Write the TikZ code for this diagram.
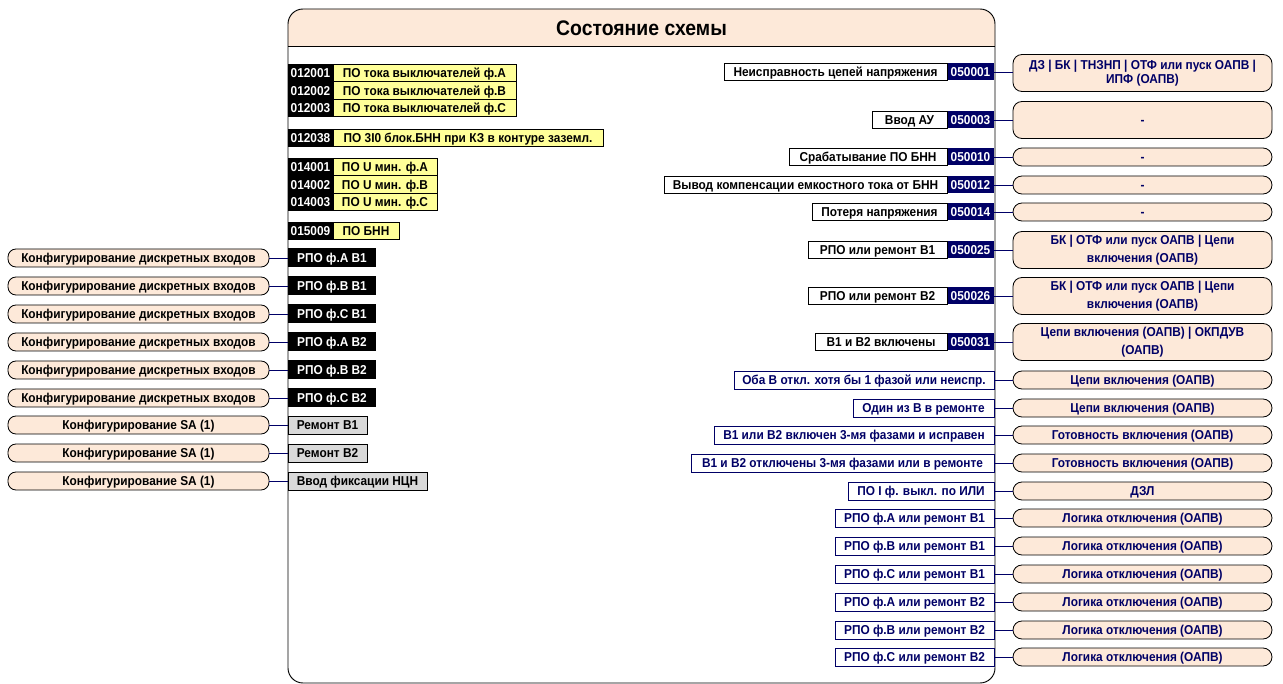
\documentclass[tikz,border=0pt]{standalone}
\usepackage{fontspec}
\setmainfont[FakeStretch=0.92]{Liberation Sans}
\usetikzlibrary{positioning}

\definecolor{peach}{HTML}{FDE9D9}
\definecolor{navy}{HTML}{000066}
\definecolor{lyellow}{HTML}{FFFF99}
\definecolor{lgray}{HTML}{D9D9D9}
\newlength\pxl
\setlength\pxl{0.03cm}

\begin{document}
\begin{tikzpicture}[x=0.03cm, y=-0.03cm,
  every node/.style={font=\fontsize{11}{12.5}\selectfont\bfseries, inner sep=0pt, outer sep=0pt, line width=0.7pt, text height=7.9pt, text depth=0pt},
  idbox/.style={fill=black, text=white, minimum width=45\pxl, minimum height=17.5\pxl, anchor=west},
  pobox/.style={draw=black, fill=lyellow, minimum height=17.5\pxl, anchor=west},
  rpobox/.style={fill=black, text=white, minimum width=88\pxl, minimum height=19\pxl, anchor=west},
  rembox/.style={draw=black, fill=lgray, minimum height=18\pxl, anchor=west},
  inbox/.style={draw=black, fill=peach, rounded corners=8\pxl, minimum width=261\pxl, minimum height=18\pxl},
  outbox/.style={draw=black, fill=peach, text=navy, rounded corners=9\pxl, minimum width=259\pxl, minimum height=18\pxl, align=center},
  tallbox/.style={outbox, minimum height=37\pxl, text height=, text depth=},
  lblbox/.style={draw=black, fill=white, minimum height=17\pxl, anchor=east},
  numbox/.style={fill=navy, text=white, minimum width=47\pxl, minimum height=17\pxl, anchor=east},
  sigbox/.style={draw=navy, fill=white, text=navy, minimum height=18\pxl, anchor=east},
  wire/.style={draw=navy, line width=0.8pt}]
\useasboundingbox (0,0) rectangle (1283,684);

% frame
\fill[peach] (288,46) [rounded corners=16\pxl] -- (288,9) -- (995,9) [sharp corners] -- (995,46) -- cycle;
\draw[line width=0.8pt, rounded corners=15\pxl] (288,683) rectangle (995,9);
\draw[line width=0.8pt] (288,46) -- (995,46);
\node[text height=12.9pt] (title) at (641.5,27.5) {\fontsize{18}{20}\selectfont Состояние схемы};

% left: settings
\node[idbox] (k1) at (288,73) {012001};
\node[idbox] (k2) at (288,90.5) {012002};
\node[idbox] (k3) at (288,108) {012003};
\node[idbox] (k4) at (288,138) {012038};
\node[idbox] (k5) at (288,167) {014001};
\node[idbox] (k6) at (288,184.5) {014002};
\node[idbox] (k7) at (288,202) {014003};
\node[idbox] (k8) at (288,231) {015009};
\node[pobox, minimum width=183\pxl] (p1) at (k1.east) {ПО тока выключателей ф.А};
\node[pobox, minimum width=183\pxl] (p2) at (k2.east) {ПО тока выключателей ф.В};
\node[pobox, minimum width=183\pxl] (p3) at (k3.east) {ПО тока выключателей ф.С};
\node[pobox, minimum width=270\pxl] (p4) at (k4.east) {ПО 3I0 блок.БНН при КЗ в контуре заземл.};
\node[pobox, minimum width=104\pxl] (p5) at (k5.east) {ПО U мин. ф.А};
\node[pobox, minimum width=104\pxl] (p6) at (k6.east) {ПО U мин. ф.В};
\node[pobox, minimum width=104\pxl] (p7) at (k7.east) {ПО U мин. ф.С};
\node[pobox, minimum width=66\pxl] (p8) at (k8.east) {ПО БНН};

% left: inputs
\node[rpobox] (r1) at (288,258) {РПО ф.А В1};
\node[rpobox] (r2) at (288,286) {РПО ф.В В1};
\node[rpobox] (r3) at (288,314) {РПО ф.С В1};
\node[rpobox] (r4) at (288,342) {РПО ф.А В2};
\node[rpobox] (r5) at (288,370) {РПО ф.В В2};
\node[rpobox] (r6) at (288,398) {РПО ф.С В2};
\node[rembox, minimum width=79\pxl] (r7) at (288,425) {Ремонт В1};
\node[rembox, minimum width=79\pxl] (r8) at (288,453) {Ремонт В2};
\node[rembox, minimum width=139\pxl] (r9) at (288,481) {Ввод фиксации НЦН};

\node[inbox] (i1) at (138.5,258) {Конфигурирование дискретных входов};
\node[inbox] (i2) at (138.5,286) {Конфигурирование дискретных входов};
\node[inbox] (i3) at (138.5,314) {Конфигурирование дискретных входов};
\node[inbox] (i4) at (138.5,342) {Конфигурирование дискретных входов};
\node[inbox] (i5) at (138.5,370) {Конфигурирование дискретных входов};
\node[inbox] (i6) at (138.5,398) {Конфигурирование дискретных входов};
\node[inbox] (i7) at (138.5,425) {Конфигурирование SA (1)};
\node[inbox] (i8) at (138.5,453) {Конфигурирование SA (1)};
\node[inbox] (i9) at (138.5,481) {Конфигурирование SA (1)};

% right: outputs with codes
\node[numbox] (n1) at (994,72) {050001};
\node[numbox] (n2) at (994,120) {050003};
\node[numbox] (n3) at (994,157) {050010};
\node[numbox] (n4) at (994,185) {050012};
\node[numbox] (n5) at (994,212) {050014};
\node[numbox] (n6) at (994,250) {050025};
\node[numbox] (n7) at (994,296) {050026};
\node[numbox] (n8) at (994,342) {050031};
\node[lblbox, minimum width=223\pxl] (l1) at (n1.west) {Неисправность цепей напряжения};
\node[lblbox, minimum width=75\pxl] (l2) at (n2.west) {Ввод АУ};
\node[lblbox, minimum width=158\pxl] (l3) at (n3.west) {Срабатывание ПО БНН};
\node[lblbox, minimum width=283\pxl] (l4) at (n4.west) {Вывод компенсации емкостного тока от БНН};
\node[lblbox, minimum width=135\pxl] (l5) at (n5.west) {Потеря напряжения};
\node[lblbox, minimum width=139\pxl] (l6) at (n6.west) {РПО или ремонт В1};
\node[lblbox, minimum width=139\pxl] (l7) at (n7.west) {РПО или ремонт В2};
\node[lblbox, minimum width=132\pxl] (l8) at (n8.west) {В1 и В2 включены};

% right: outputs without codes
\node[sigbox, minimum width=260\pxl] (s1) at (994,380) {Оба В откл. хотя бы 1 фазой или неиспр.};
\node[sigbox, minimum width=141\pxl] (s2) at (994,408) {Один из В в ремонте};
\node[sigbox, minimum width=280\pxl] (s3) at (994,435) {В1 или В2 включен 3-мя фазами и исправен};
\node[sigbox, minimum width=303\pxl] (s4) at (994,463) {В1 и В2 отключены 3-мя фазами или в ремонте};
\node[sigbox, minimum width=146\pxl] (s5) at (994,491) {ПО I ф. выкл. по ИЛИ};
\node[sigbox, minimum width=159\pxl] (s6) at (994,518) {РПО ф.А или ремонт В1};
\node[sigbox, minimum width=159\pxl] (s7) at (994,546) {РПО ф.В или ремонт В1};
\node[sigbox, minimum width=159\pxl] (s8) at (994,574) {РПО ф.С или ремонт В1};
\node[sigbox, minimum width=159\pxl] (s9) at (994,602) {РПО ф.А или ремонт В2};
\node[sigbox, minimum width=159\pxl] (s10) at (994,630) {РПО ф.В или ремонт В2};
\node[sigbox, minimum width=159\pxl] (s11) at (994,657) {РПО ф.С или ремонт В2};

% right: consumers
\node[tallbox] (o1) at (1142.5,73) {ДЗ | БК | ТНЗНП | ОТФ или пуск ОАПВ |\\ИПФ (ОАПВ)};
\node[outbox, minimum height=37\pxl] (o2) at (1142.5,120) {-};
\node[outbox] (o3) at (1142.5,157) {-};
\node[outbox] (o4) at (1142.5,185) {-};
\node[outbox] (o5) at (1142.5,212) {-};
\node[tallbox] (o6) at (1142.5,250) {БК | ОТФ или пуск ОАПВ | Цепи\\[3pt]включения (ОАПВ)};
\node[tallbox] (o7) at (1142.5,296) {БК | ОТФ или пуск ОАПВ | Цепи\\[3pt]включения (ОАПВ)};
\node[tallbox] (o8) at (1142.5,342) {Цепи включения (ОАПВ) | ОКПДУВ\\[3pt](ОАПВ)};
\node[outbox] (o9) at (1142.5,380) {Цепи включения (ОАПВ)};
\node[outbox] (o10) at (1142.5,408) {Цепи включения (ОАПВ)};
\node[outbox] (o11) at (1142.5,435) {Готовность включения (ОАПВ)};
\node[outbox] (o12) at (1142.5,463) {Готовность включения (ОАПВ)};
\node[outbox] (o13) at (1142.5,491) {ДЗЛ};
\node[outbox] (o14) at (1142.5,518) {Логика отключения (ОАПВ)};
\node[outbox] (o15) at (1142.5,546) {Логика отключения (ОАПВ)};
\node[outbox] (o16) at (1142.5,574) {Логика отключения (ОАПВ)};
\node[outbox] (o17) at (1142.5,602) {Логика отключения (ОАПВ)};
\node[outbox] (o18) at (1142.5,630) {Логика отключения (ОАПВ)};
\node[outbox] (o19) at (1142.5,657) {Логика отключения (ОАПВ)};

% connectors
\draw[wire] (i1) -- (r1);
\draw[wire] (i2) -- (r2);
\draw[wire] (i3) -- (r3);
\draw[wire] (i4) -- (r4);
\draw[wire] (i5) -- (r5);
\draw[wire] (i6) -- (r6);
\draw[wire] (i7) -- (r7);
\draw[wire] (i8) -- (r8);
\draw[wire] (i9) -- (r9);
\draw[wire] (n1) -- (n1 -| o1.west);
\draw[wire] (n2) -- (o2);
\draw[wire] (n3) -- (o3);
\draw[wire] (n4) -- (o4);
\draw[wire] (n5) -- (o5);
\draw[wire] (n6) -- (o6);
\draw[wire] (n7) -- (o7);
\draw[wire] (n8) -- (o8);
\draw[wire] (s1) -- (o9);
\draw[wire] (s2) -- (o10);
\draw[wire] (s3) -- (o11);
\draw[wire] (s4) -- (o12);
\draw[wire] (s5) -- (o13);
\draw[wire] (s6) -- (o14);
\draw[wire] (s7) -- (o15);
\draw[wire] (s8) -- (o16);
\draw[wire] (s9) -- (o17);
\draw[wire] (s10) -- (o18);
\draw[wire] (s11) -- (o19);
\end{tikzpicture}
\end{document}
